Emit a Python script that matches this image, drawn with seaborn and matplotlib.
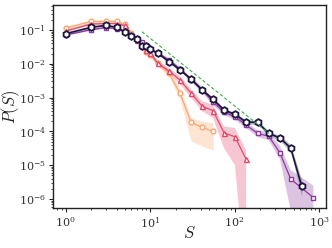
import matplotlib
matplotlib.use("Agg")
import matplotlib.pyplot as plt
import numpy as np
import pandas as pd
import seaborn as sn

# cluster sizes (shared log bins)
S_all = [1, 2, 3, 4, 5, 6, 7, 8, 9, 10, 12.3, 16.8, 22.6, 30.6, 41.2, 55.7,
         75, 101, 137, 188, 254, 345, 462, 624, 857]

# orange series (circles)
orange_s = S_all[:16]
orange_p = [0.114, 0.18, 0.18, 0.18, 0.147, 0.082, 0.05, 0.034, 0.023, 0.018,
            0.0104, 0.0052, 0.00134, 1.86e-4, 1.32e-4, 1.0e-4]
orange_lo = [0.100, 0.165, 0.165, 0.165, 0.132, 0.072, 0.043, 0.029, 0.019, 0.015,
             0.0085, 0.0041, 8.5e-4, 5.2e-5, 3.7e-5, 2.8e-5]
orange_hi = [0.128, 0.196, 0.196, 0.196, 0.163, 0.093, 0.058, 0.040, 0.027, 0.022,
             0.0127, 0.0066, 1.92e-3, 2.5e-4, 2.0e-4, 1.8e-4]

# pink series (triangles)
pink_s = S_all[:19]
pink_p = [0.093, 0.15, 0.155, 0.155, 0.136, 0.071, 0.05, 0.034, 0.026, 0.021,
          0.0104, 0.0061, 0.0033, 0.00135, 5.6e-4, 4.1e-4, 9.1e-5, 6.9e-5, 1.5e-5]
pink_lo = [0.086, 0.139, 0.144, 0.144, 0.125, 0.064, 0.045, 0.030, 0.023, 0.018,
           0.0088, 0.0050, 0.0025, 9.8e-4, 4.0e-4, 2.5e-4, 3.2e-5, 1.0e-5, 3e-9]
pink_hi = [0.101, 0.162, 0.167, 0.167, 0.148, 0.078, 0.056, 0.038, 0.029, 0.024,
           0.0122, 0.0075, 0.0043, 1.8e-3, 7.9e-4, 6.0e-4, 1.4e-4, 1.26e-4, 2.8e-5]

# purple series (squares), no point at S=624
purple_s = S_all[:23] + [S_all[24]]
purple_p = [0.071, 0.102, 0.118, 0.11, 0.087, 0.071, 0.058, 0.044, 0.036, 0.027,
            0.021, 0.0129, 0.0070, 0.0034, 0.0017, 7.4e-4, 3.7e-4, 2.7e-4, 1.55e-4,
            8.7e-5, 7.2e-5, 2.3e-5, 3.9e-6, 1.1e-6]
purple_lo = [0.066, 0.095, 0.110, 0.103, 0.081, 0.066, 0.054, 0.041, 0.033, 0.025,
             0.019, 0.0115, 0.0061, 0.0029, 0.0014, 6.0e-4, 3.0e-4, 2.2e-4, 1.25e-4,
             6.8e-5, 5.5e-5, 1.5e-5, 4.6e-7, 1e-9]
purple_hi = [0.076, 0.109, 0.126, 0.118, 0.093, 0.076, 0.062, 0.047, 0.039, 0.029,
             0.023, 0.0145, 0.0080, 0.0040, 0.0021, 9.1e-4, 4.5e-4, 3.3e-4, 1.9e-4,
             1.07e-4, 9.4e-5, 3.7e-5, 7.2e-6, 2.5e-6]

# dark series (hexagons)
dark_s = S_all[:24]
dark_p = [0.078, 0.12, 0.138, 0.12, 0.089, 0.068, 0.053, 0.034, 0.033, 0.027,
          0.0205, 0.0115, 0.0066, 0.0035, 0.0017, 8.9e-4, 4.3e-4, 3.2e-4, 1.9e-4,
          1.85e-4, 8.7e-5, 6.4e-5, 3.2e-5, 2.4e-6]
dark_lo = [0.074, 0.114, 0.131, 0.114, 0.084, 0.064, 0.050, 0.032, 0.031, 0.025,
           0.019, 0.0107, 0.0061, 0.0032, 0.00155, 8.0e-4, 3.8e-4, 2.8e-4, 1.65e-4,
           1.6e-4, 7.4e-5, 5.3e-5, 2.5e-5, 1.2e-6]
dark_hi = [0.082, 0.126, 0.145, 0.126, 0.094, 0.072, 0.056, 0.036, 0.035, 0.029,
           0.022, 0.0124, 0.0071, 0.0038, 0.00185, 9.8e-4, 4.8e-4, 3.6e-4, 2.15e-4,
           2.1e-4, 1.0e-4, 7.6e-5, 4.0e-5, 3.6e-6]

# slope -2 guide line
guide_s = [8.0, 256]
guide_p = [0.089, 8.7e-5]

sn.set_style("ticks")
plt.rcParams['font.family'] = ['DejaVu Serif']
plt.rcParams['mathtext.fontset'] = 'cm'

fig = plt.figure(figsize=(3.32, 2.48), dpi=100)
ax = fig.add_axes([0.160, 0.161, 0.822, 0.819])

series = [
    (orange_s, orange_p, orange_lo, orange_hi, "#fda66e", "o", 3.4, 0.9),
    (pink_s, pink_p, pink_lo, pink_hi, "#e3486b", "^", 3.6, 0.9),
    (purple_s, purple_p, purple_lo, purple_hi, "#8b3a9c", "s", 3.4, 0.9),
    (dark_s, dark_p, dark_lo, dark_hi, "#1e1640", "h", 4.8, 1.2),
]

for s, p, lo, hi, col, mk, ms, lw in series:
    ax.fill_between(s, lo, hi, color=col, alpha=0.3, linewidth=0)
    df = pd.DataFrame({"S": s, "P": p})
    sn.lineplot(data=df, x="S", y="P", ax=ax, color=col, lw=lw, marker=mk,
                markersize=ms, markerfacecolor="white", markeredgecolor=col,
                markeredgewidth=1.0 if mk != "h" else 1.3, errorbar=None)

ax.plot(guide_s, guide_p, color="#3cb043", lw=0.8, ls=(0, (3, 2)), zorder=5)

ax.set_xscale("log")
ax.set_yscale("log")
ax.set_xlim(0.71, 1210)
ax.set_ylim(5.4e-7, 0.55)
ax.set_xlabel("$S$", fontsize=12, labelpad=-3)
ax.set_ylabel("$P(S)$", fontsize=12, labelpad=-2)
ax.tick_params(labelsize=8, length=3, width=0.8, pad=2, labelcolor="#333333")
ax.tick_params(which="minor", length=1.5, width=0.6)
for sp in ax.spines.values():
    sp.set_color("#222222")
    sp.set_linewidth(1.0)

fig.savefig("out.png", dpi=100)
